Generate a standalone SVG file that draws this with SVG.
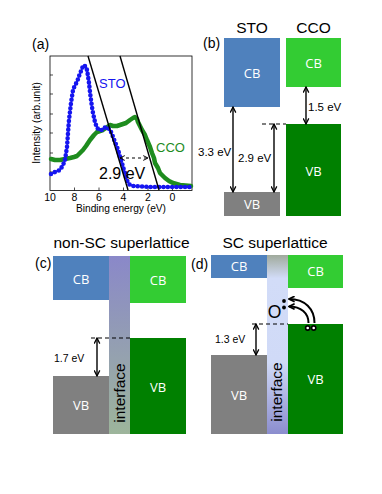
<svg xmlns="http://www.w3.org/2000/svg" width="382" height="494" viewBox="0 0 382 494">
<defs>
<style>
text{font-family:"Liberation Sans",Arial,sans-serif;fill:#000}
.bl{font-family:"Open Sans","Liberation Sans",sans-serif;fill:#fff;font-size:13px;text-anchor:middle}
.ev{font-size:11.5px}
.ev2{font-size:10.5px}
.hd{font-size:15.5px;text-anchor:middle}
.pl{font-size:14px}
.tk{font-size:10.5px;text-anchor:middle}
.stoCB{fill:#4f81bd}
.ccoCB{fill:#33cc33}
.ccoVB{fill:#008000}
.stoVB{fill:#808080}
.arr{stroke:#000;stroke-width:1.4;fill:none;marker-start:url(#ah);marker-end:url(#ah)}
.dash{stroke:#000;stroke-width:1.1;stroke-dasharray:4 3;fill:none}
</style>
<marker id="ah" viewBox="0 0 10 10" refX="9" refY="5" markerWidth="7" markerHeight="7" markerUnits="userSpaceOnUse" orient="auto-start-reverse">
<path d="M1,1 L9,5 L1,9" fill="none" stroke="#000" stroke-width="1.8"/>
</marker>
<marker id="ah2" viewBox="0 0 10 10" refX="9" refY="5" markerWidth="7" markerHeight="7" markerUnits="userSpaceOnUse" orient="auto">
<path d="M1,1 L9,5 L1,9" fill="none" stroke="#000" stroke-width="2.4"/>
</marker>
<marker id="ahs" viewBox="0 0 10 10" refX="9" refY="5" markerWidth="6" markerHeight="6" markerUnits="userSpaceOnUse" orient="auto-start-reverse">
<path d="M1,1 L9,5 L1,9" fill="none" stroke="#000" stroke-width="1.6"/>
</marker>
<linearGradient id="gc" x1="0" y1="0" x2="0" y2="1">
<stop offset="0" stop-color="#8a88c9"/>
<stop offset="1" stop-color="#9db59b"/>
</linearGradient>
<linearGradient id="gd" x1="0" y1="0" x2="0" y2="1">
<stop offset="0" stop-color="#a0aa9c"/>
<stop offset="0.13" stop-color="#d2dcf8"/>
<stop offset="0.6" stop-color="#d0daf7"/>
<stop offset="1" stop-color="#8b8dce"/>
</linearGradient>
</defs>

<!-- Panel (a) -->
<g id="panel-a">
<text class="pl" x="32" y="49">(a)</text>
<rect x="50" y="56" width="142" height="134.5" fill="none" stroke="#000" stroke-width="0.8"/>
<path d="M50,75h3M50,94h3M50,114h3M50,133h3M50,153h3M50,172h3M74.5,190.5v-3M99,190.5v-3M123.5,190.5v-3M148,190.5v-3M172.5,190.5v-3" stroke="#000" stroke-width="0.7"/>
<g class="tk">
<text x="50" y="201">10</text><text x="74.5" y="201">8</text><text x="99" y="201">6</text><text x="123.5" y="201">4</text><text x="148" y="201">2</text><text x="172.5" y="201">0</text>
</g>
<text x="121" y="211.5" style="font-size:10.2px;text-anchor:middle">Binding energy (eV)</text>
<text transform="translate(40,123) rotate(-90)" style="font-size:10.2px;text-anchor:middle">Intensity (arb.unit)</text>
<polyline fill="none" stroke="#1e8c1e" stroke-width="4.5" stroke-linejoin="round" stroke-linecap="round" points="51,159 55,160 60,160 65,159 70,158 74,157 77,156 80,153 83,150 86,146 90,140 94,135 97,132 100,131 103,130 106,128 110,125 113,126 117,126 120,125 123,124 126,123 130,120 133,118 135,117 137,119 138,122 140,126 142,130 145,135 147,140 150,147 152,153 154,158 155,163 158,168 160,173 163,176 165,178 169,181 173,183 180,185 191,186"/>
<g fill="none" stroke="#1515f0">
<polyline stroke-width="1" points="51,174 55,172 60,170 63,165 65,160 67,147 68,133 69,120 71,103 73,90 75,85 77,82 79,76 81,71 83,66 84,65 86,67 87,70 88,76 89,83 90,92 91,100 92,107 93,113 95,122 97,128 100,130 102,130 104,128 106,127 108,128 110,130 112,134 113,137 115,142 117,147 119,153 120,157 122,163 123,167 125,173 126,177 128,183 130,185 133,186 150,187 191,187"/>
<polyline stroke-width="4.6" stroke-linecap="round" stroke-dasharray="0 4.3" points="51,174 55,172 60,170 63,165 65,160 67,147 68,133 69,120 71,103 73,90 75,85 77,82 79,76 81,71 83,66 84,65 86,67 87,70 88,76 89,83 90,92 91,100 92,107 93,113 95,122 97,128 100,130 102,130 104,128 106,127 108,128 110,130 112,134 113,137 115,142 117,147 119,153 120,157 122,163 123,167 125,173 126,177 128,183 130,185 133,186 150,187 191,187"/>
</g>
<line x1="88" y1="56" x2="128" y2="190" stroke="#000" stroke-width="1.4"/>
<line x1="120" y1="56" x2="159" y2="190" stroke="#000" stroke-width="1.4"/>
<line x1="120" y1="158" x2="148" y2="158" stroke="#000" stroke-width="1.1" stroke-dasharray="3 3" marker-start="url(#ahs)" marker-end="url(#ahs)"/>
<text x="99" y="179" style="font-size:16px">2.9 eV</text>
<text x="99" y="88" style="font-size:13px;fill:#1515f0">STO</text>
<text x="156" y="152" style="font-size:13px;fill:#1e8c1e">CCO</text>
</g>

<!-- Panel (b) -->
<g id="panel-b">
<text class="pl" x="203" y="48">(b)</text>
<text class="hd" x="252" y="32.5">STO</text>
<text class="hd" x="313.5" y="32.5">CCO</text>
<g id="b-sto-cb"><rect class="stoCB" x="224" y="38" width="56" height="69"/><text class="bl" x="252" y="77.5">CB</text></g>
<g id="b-cco-cb"><rect class="ccoCB" x="286" y="38" width="55" height="49"/><text class="bl" x="313.5" y="67.5">CB</text></g>
<g id="b-cco-vb"><rect class="ccoVB" x="286" y="124" width="55" height="92"/><text class="bl" x="313.5" y="175.5">VB</text></g>
<g id="b-sto-vb"><rect class="stoVB" x="224" y="192" width="56" height="24"/><text class="bl" x="252" y="208.5">VB</text></g>
</g>

<!-- Panel (c) -->
<g id="panel-c">
<text class="hd" x="121.5" y="247.5">non-SC superlattice</text>
<text class="pl" x="35" y="268">(c)</text>
<g id="c-sto-cb"><rect class="stoCB" x="53" y="256" width="56" height="44"/><text class="bl" x="81" y="283.5">CB</text></g>
<g id="c-interface"><rect x="109" y="256" width="21" height="178" fill="url(#gc)"/><text transform="translate(120,393) rotate(-90)" style="font-size:15.5px;text-anchor:middle" y="4.5">interface</text></g>
<g id="c-cco-cb"><rect class="ccoCB" x="130" y="256" width="56" height="47"/><text class="bl" x="158" y="284.5">CB</text></g>
<g id="c-cco-vb"><rect class="ccoVB" x="130" y="338" width="56" height="96"/><text class="bl" x="158" y="391.5">VB</text></g>
<g id="c-sto-vb"><rect class="stoVB" x="53" y="376" width="56" height="58"/><text class="bl" x="81" y="409.5">VB</text></g>
</g>

<!-- Panel (d) -->
<g id="panel-d">
<text class="hd" x="275" y="247.5">SC superlattice</text>
<text class="pl" x="191" y="269">(d)</text>
<g id="d-sto-cb"><rect class="stoCB" x="211" y="255" width="56" height="23"/><text class="bl" x="239" y="271">CB</text></g>
<g id="d-interface"><rect x="267" y="255" width="21" height="179" fill="url(#gd)"/><text transform="translate(277,392) rotate(-90)" style="font-size:15.5px;text-anchor:middle" y="4.5">interface</text></g>
<g id="d-cco-cb"><rect class="ccoCB" x="288" y="255" width="55" height="33"/><text class="bl" x="315.5" y="276">CB</text></g>
<g id="d-cco-vb"><rect class="ccoVB" x="288" y="324" width="55" height="110"/><text class="bl" x="315.5" y="384">VB</text></g>
<g id="d-sto-vb"><rect class="stoVB" x="211" y="355" width="56" height="79"/><text class="bl" x="239" y="400">VB</text></g>
<g id="d-oxygen">
<text x="274.5" y="317.5" style="font-size:17.5px;text-anchor:middle">O</text>
<circle cx="284" cy="301" r="1.9" fill="#000"/>
<circle cx="284" cy="307.5" r="1.9" fill="#000"/>
<circle cx="307.7" cy="328" r="2.1" fill="#fff" stroke="#000" stroke-width="1.6"/>
<circle cx="313.7" cy="328" r="2.1" fill="#fff" stroke="#000" stroke-width="1.6"/>
</g>
</g>

<!-- Connectors -->
<g id="connectors">
<line class="dash" x1="262" y1="124" x2="286" y2="124"/>
<line class="arr" x1="233" y1="107" x2="233" y2="192"/>
<line class="arr" x1="274" y1="124" x2="274" y2="192"/>
<line class="arr" x1="306" y1="87" x2="306" y2="124"/>
<line class="dash" x1="91" y1="338" x2="130" y2="338"/>
<line class="arr" x1="97" y1="338" x2="97" y2="376"/>
<line class="dash" x1="252" y1="324" x2="288" y2="324"/>
<line class="arr" x1="256" y1="324" x2="256" y2="355"/>
<path d="M314.5,323 C314.5,309 305,299 289,299" fill="none" stroke="#000" stroke-width="2" marker-end="url(#ah2)"/>
<path d="M308.5,323 C308.5,313 301,306.5 289,306.5" fill="none" stroke="#000" stroke-width="2" marker-end="url(#ah2)"/>
<text class="ev" x="198" y="156">3.3 eV</text>
<text class="ev" x="238" y="162">2.9 eV</text>
<text class="ev" x="308" y="111">1.5 eV</text>
<text class="ev2" x="54" y="362">1.7 eV</text>
<text class="ev2" x="215" y="343">1.3 eV</text>
</g>
</svg>
